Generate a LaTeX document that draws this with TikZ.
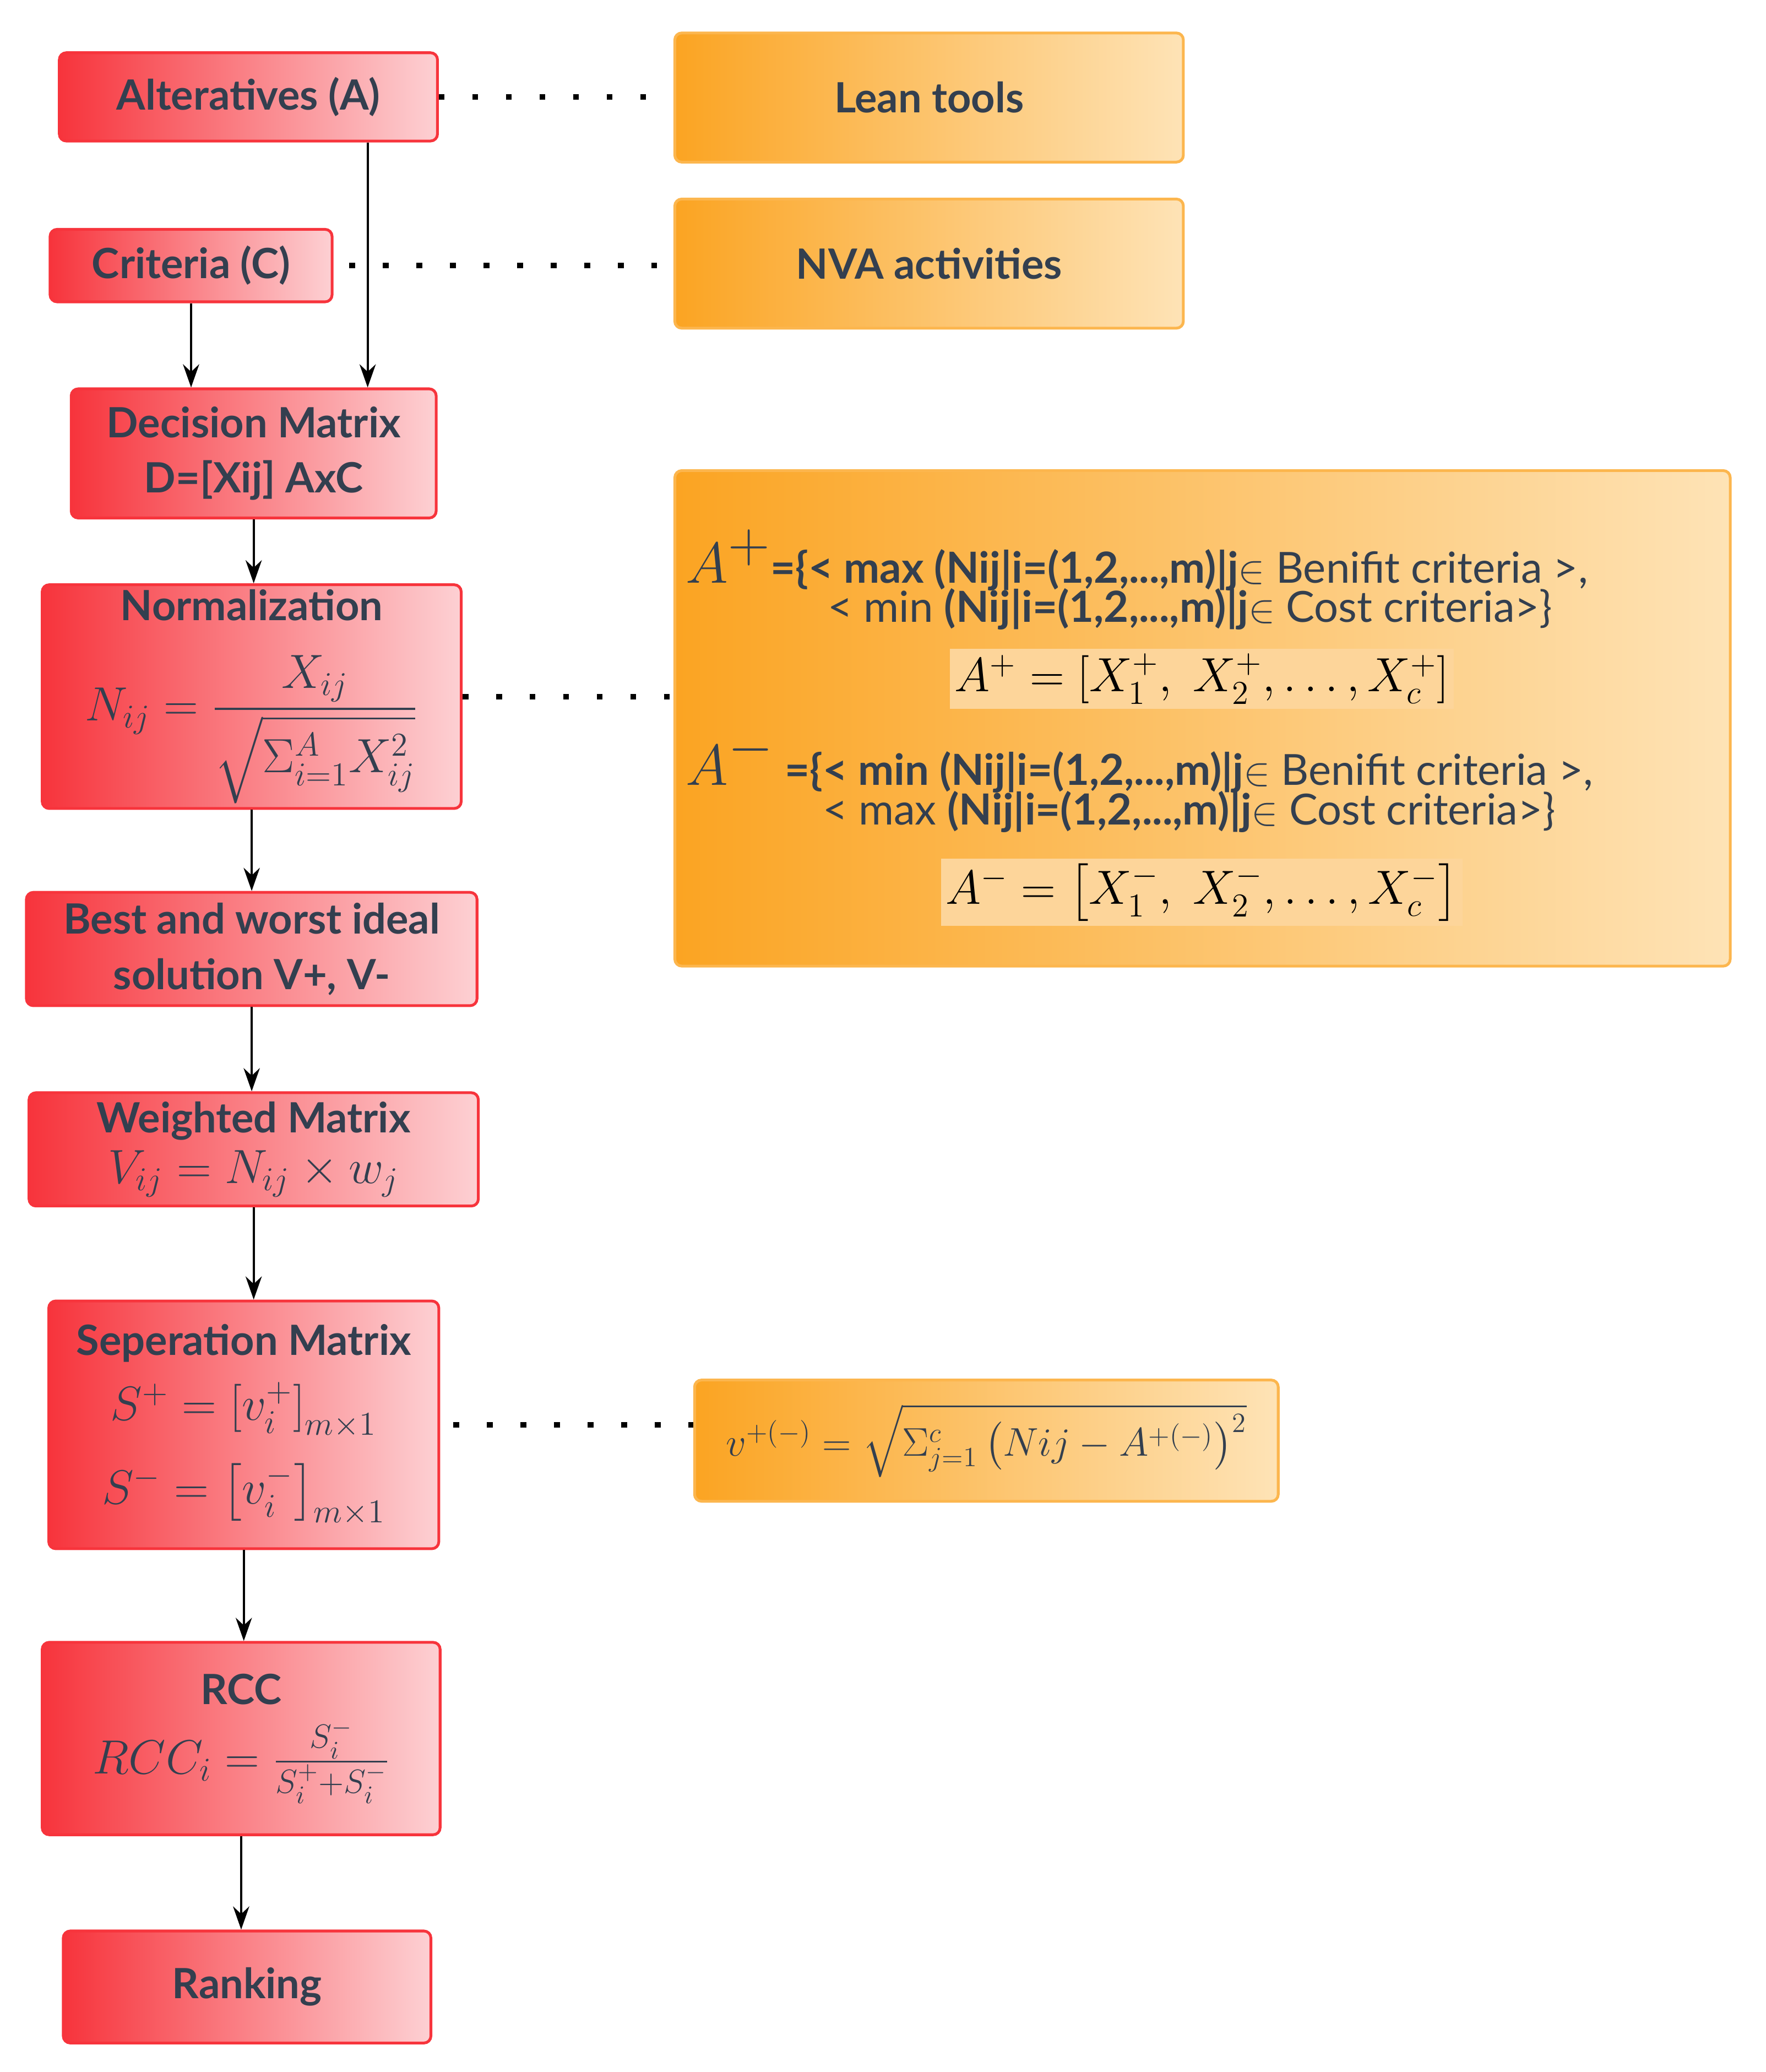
\documentclass[tikz,border=0pt]{standalone}
\usepackage{fontspec}
\setmainfont{Lato}
\usepackage{amsmath}
\usetikzlibrary{arrows.meta,calc}
\definecolor{txt}{HTML}{333F4F}
\definecolor{redl}{HTML}{F7343C}
\definecolor{redr}{HTML}{FDD0D3}
\definecolor{orgl}{HTML}{FBA422}
\definecolor{orgr}{HTML}{FEE3B6}
\definecolor{hl}{HTML}{FDD59A}
\tikzset{
  stage/.style={draw=redl, line width=1.2pt, rounded corners=3pt, left color=redl, right color=redr,
    text=txt, font=\fontsize{18}{24}\selectfont\bfseries, align=center, inner sep=2pt},
  side/.style={draw=orgl!80, line width=1.2pt, rounded corners=3pt, left color=orgl, right color=orgr,
    text=txt, font=\fontsize{18}{24}\selectfont\bfseries, align=center},
  arr/.style={-{Stealth[length=10pt,width=7pt]}, line width=1pt},
  dots/.style={line width=2.5pt, dash pattern=on 2.5pt off 12pt},
  txtline/.style={anchor=west, text=txt, font=\fontsize{18.5}{22}\selectfont, inner sep=0pt}
}
\begin{document}
\begin{tikzpicture}[x=0.02cm,y=-0.02cm]
\useasboundingbox (0,0) rectangle (1340,1572);
% left column
\node[stage, minimum width=5.74cm, minimum height=1.34cm] (alt) at (188.5,73.5) {Alteratives (A)};
\node[stage, minimum width=4.28cm, minimum height=1.1cm] (crit) at (145,201.5) {Criteria (C)};
\node[stage, minimum width=5.54cm, minimum height=1.96cm] (dec) at (192.5,344) {Decision Matrix\\D=[Xij] AxC};
\node[stage, minimum width=6.36cm, minimum height=3.3cm] (norm) at (191,528.5)
  {Normalization\\[14pt] \fontsize{21}{24}\selectfont$\displaystyle N_{ij} = \frac{X_{ij}}{\sqrt{\Sigma_{i=1}^{A} X_{ij}^2}}$};
\node[stage, minimum width=6.84cm, minimum height=1.72cm] (best) at (191,720) {Best and worst ideal\\solution V+, V-};
\node[stage, minimum width=6.82cm, minimum height=1.72cm] (wm) at (192.5,872)
  {Weighted Matrix\\[-2pt] \fontsize{21}{24}\selectfont$V_{ij} = N_{ij} \times w_j$};
\node[stage, minimum width=5.92cm, minimum height=3.76cm] (sep) at (185,1081)
  {Seperation Matrix\\[4pt] \fontsize{21}{26}\selectfont$S^+ = \left[v_i^+\right]_{m\times1}$\\[10pt]
   \fontsize{21}{26}\selectfont$S^- = \left[v_i^-\right]_{m\times1}$};
\node[stage, minimum width=6.04cm, minimum height=2.92cm] (rcc) at (183,1319)
  {RCC\\[6pt] \fontsize{21}{24}\selectfont$RCC_i = \frac{S_i^-}{S_i^+ + S_i^-}$};
\node[stage, minimum width=5.58cm, minimum height=1.7cm] (rank) at (187.5,1507.5) {Ranking};
% right column
\node[side, minimum width=7.72cm, minimum height=1.96cm] (lean) at (705,74) {Lean tools};
\node[side, minimum width=7.72cm, minimum height=1.96cm] (nva) at (705,200) {NVA activities};
\node[side, minimum width=16.02cm, minimum height=7.52cm] (ideal) at (912.5,545) {};
\node[side, minimum width=8.86cm, minimum height=1.84cm] (dist) at (748.5,1093)
  {\fontsize{17}{22}\selectfont$v^{+(-)} = \sqrt{\Sigma_{j=1}^{c}\left(Nij - A^{+(-)}\right)^2}$};
% text of the ideal solution box
\node[txtline] (l1) at (520,425) {{\fontsize{34}{34}\selectfont$A^+$}\textbf{=\{< max (Nij|i=(1,2,...,m)|j}$\in$ Benifit criteria >,};
\node[txtline] (l2) at (628,462) {< min \textbf{(Nij|i=(1,2,...,m)|j}$\in$ Cost criteria>\}};
\node[fill=hl, inner sep=2pt, font=\fontsize{22}{24}\selectfont] (f1) at (912,515)
  {$A^+ = \left[X_1^+,\ X_2^+, \ldots, X_c^+\right]$};
\node[txtline] (l3) at (520,578) {{\fontsize{34}{34}\selectfont$A^-$} \textbf{=\{< min (Nij|i=(1,2,...,m)|j}$\in$ Benifit criteria >,};
\node[txtline] (l4) at (624,616) {< max \textbf{(Nij|i=(1,2,...,m)|j}$\in$ Cost criteria>\}};
\node[fill=hl, inner sep=2pt, font=\fontsize{22}{24}\selectfont] (f2) at (912,677)
  {$A^- = \left[X_1^-,\ X_2^-, \ldots, X_c^-\right]$};
% flow arrows
\draw[arr] ([xshift=1.81cm]alt.south) -- ([xshift=1.81cm]alt.south |- dec.north);
\draw[arr] (crit.south) -- (crit.south |- dec.north);
\draw[arr] (dec.south) -- (dec.south |- norm.north);
\draw[arr] (norm.south) -- (norm.south |- best.north);
\draw[arr] (best.south) -- (best.south |- wm.north);
\draw[arr] (wm.south) -- (wm.south |- sep.north);
\draw[arr] (sep.south) -- (sep.south |- rcc.north);
\draw[arr] (rcc.south) -- (rcc.south |- rank.north);
% dotted links
\draw[dots] (alt.east) -- (alt.east -| lean.west);
\draw[dots] ([xshift=0.24cm]crit.east) -- (crit.east -| nva.west);
\draw[dots] (norm.east) -- (norm.east -| ideal.west);
\draw[dots] ([xshift=0.2cm]sep.east) -- (sep.east -| dist.west);
\end{tikzpicture}
\end{document}
